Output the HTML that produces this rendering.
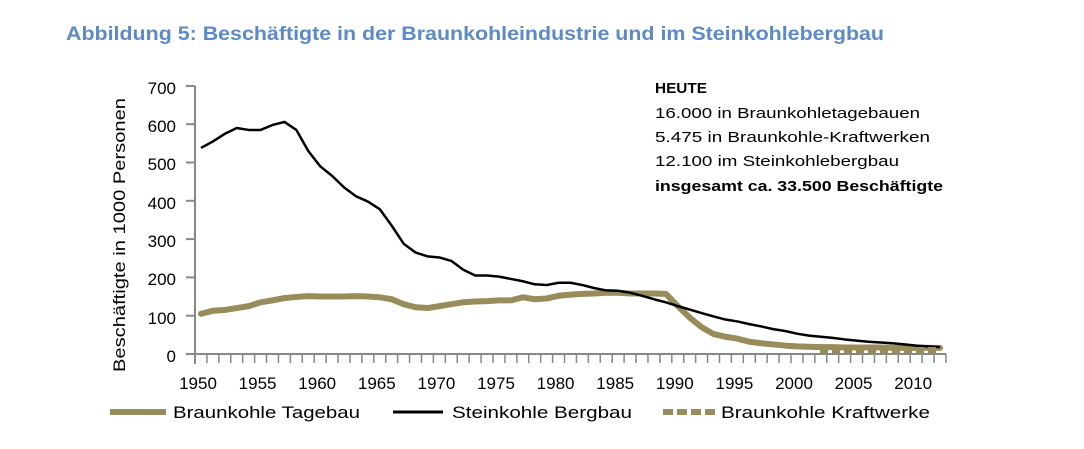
<!DOCTYPE html><html><head><meta charset="utf-8"><style>body{margin:0;background:#fff}svg{display:block;font-family:"Liberation Sans",sans-serif}</style></head><body>
<svg width="1084" height="449" xmlns="http://www.w3.org/2000/svg">
<text x="66" y="40" font-size="19" font-weight="bold" fill="#5b8ac6" textLength="818" lengthAdjust="spacingAndGlyphs">Abbildung 5: Beschäftigte in der Braunkohleindustrie und im Steinkohlebergbau</text>
<g font-size="17" fill="#000" text-anchor="end">
<text x="176" y="94">700</text><text x="176" y="132">600</text><text x="176" y="170">500</text><text x="176" y="209">400</text><text x="176" y="247">300</text><text x="176" y="285">200</text><text x="176" y="324">100</text><text x="176" y="362">0</text></g>
<text transform="translate(125,235) rotate(-90)" font-size="17" text-anchor="middle" textLength="274" lengthAdjust="spacingAndGlyphs">Beschäftigte in 1000 Personen</text>
<line x1="195" y1="86" x2="195" y2="364" stroke="#888" stroke-width="2"/>
<line x1="186" y1="86" x2="195" y2="86" stroke="#888" stroke-width="2"/>
<g stroke="#888" stroke-width="2" id="yt"></g>
<line x1="186" y1="354" x2="946" y2="354" stroke="#888" stroke-width="2"/>
<g id="ticks" stroke="#888" stroke-width="1.5"></g>
<g font-size="17" text-anchor="middle" id="xl"></g>
<polyline id="tb" fill="none" stroke="#978c5a" stroke-width="6" stroke-linejoin="round" stroke-linecap="round"/>
<polyline id="st" fill="none" stroke="#000" stroke-width="2.5" stroke-linejoin="round"/>
<line x1="820" y1="350" x2="940" y2="350" stroke="#978c5a" stroke-width="6" stroke-dasharray="8,4"/>
<g font-size="15"><text x="655" y="93" font-weight="bold" textLength="52" lengthAdjust="spacingAndGlyphs">HEUTE</text><text x="655" y="118" textLength="265" lengthAdjust="spacingAndGlyphs">16.000 in Braunkohletagebauen</text><text x="655" y="142" textLength="275" lengthAdjust="spacingAndGlyphs">5.475 in Braunkohle-Kraftwerken</text><text x="655" y="166" textLength="244" lengthAdjust="spacingAndGlyphs">12.100 im Steinkohlebergbau</text><text x="655" y="191" font-weight="bold" textLength="288" lengthAdjust="spacingAndGlyphs">insgesamt ca. 33.500 Beschäftigte</text></g>
<line x1="110" y1="412" x2="166" y2="412" stroke="#978c5a" stroke-width="6"/>
<text x="173" y="418" font-size="17" textLength="187" lengthAdjust="spacingAndGlyphs">Braunkohle Tagebau</text>
<line x1="393" y1="412" x2="443" y2="412" stroke="#000" stroke-width="3"/>
<text x="452" y="418" font-size="17" textLength="180" lengthAdjust="spacingAndGlyphs">Steinkohle Bergbau</text>
<line x1="663" y1="412" x2="715" y2="412" stroke="#978c5a" stroke-width="6" stroke-dasharray="10,4"/>
<text x="721" y="418" font-size="17" textLength="209" lengthAdjust="spacingAndGlyphs">Braunkohle Kraftwerke</text>
<script>
var X=y=>201+(y-1950)*11.92,Y=v=>354-v*0.383,ns="http://www.w3.org/2000/svg";
var tb=[105,113,115,120,125,135,140,146,149,151,150,150,150,151,150,148,143,130,122,120,125,130,135,137,138,140,140,148,143,145,152,155,157,158,160,160,158,158,158,157,125,95,70,52,45,40,32,28,25,22,20,19,18,18,17,17,17,17,16,16,16,16,16];
var st=[538,555,575,590,585,585,598,606,585,530,490,465,435,412,398,378,335,288,265,255,252,243,220,205,205,202,196,190,182,180,186,186,180,172,166,165,160,152,143,135,125,116,107,98,90,85,78,72,65,60,53,48,45,42,38,35,32,30,28,25,22,20,18];
document.getElementById('tb').setAttribute('points',tb.map((v,i)=>X(1950+i)+','+Y(v)).join(' '));
document.getElementById('st').setAttribute('points',st.map((v,i)=>X(1950+i)+','+Y(v)).join(' '));
var t=document.getElementById('ticks');for(var i=0;i<=63;i++){var l=document.createElementNS(ns,'line');var x=195+i*11.92;l.setAttribute('x1',x);l.setAttribute('x2',x);l.setAttribute('y1',354);l.setAttribute('y2',363);t.appendChild(l);}
var yt=document.getElementById('yt');for(var k=1;k<7;k++){var l=document.createElementNS(ns,'line');l.setAttribute('x1',186);l.setAttribute('x2',195);l.setAttribute('y1',Y(k*100));l.setAttribute('y2',Y(k*100));yt.appendChild(l);}
var xl=document.getElementById('xl');for(var yr=1950;yr<=2010;yr+=5){var e=document.createElementNS(ns,'text');e.setAttribute('x',X(yr)-3);e.setAttribute('y',389);e.textContent=yr;xl.appendChild(e);}
</script>
</svg></body></html>
